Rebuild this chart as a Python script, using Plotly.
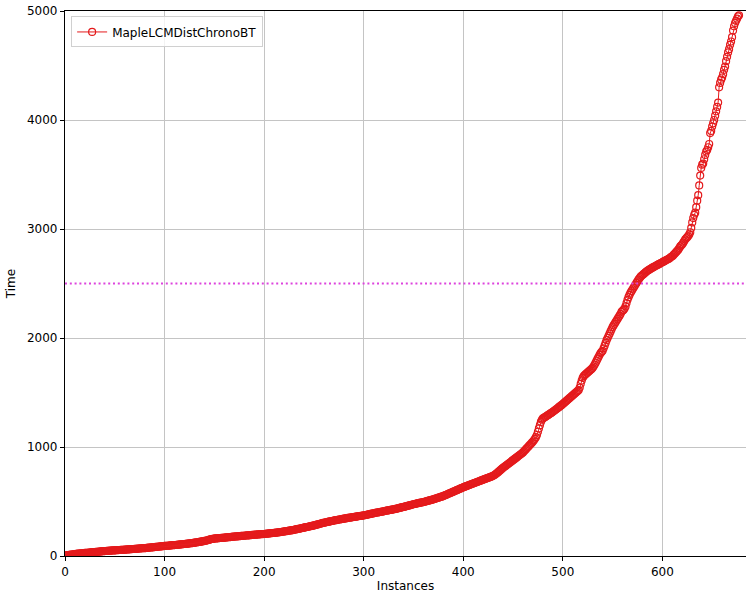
import plotly.graph_objects as go

series_name = "MapleLCMDistChronoBT"
threshold = 2500

times = [
    3,5,7,8,10,11,12,13,15,16,
    18,19,20,21,22,23,24,25,26,27,
    28,29,29,30,31,32,33,34,35,35,
    36,37,38,39,40,41,42,43,44,44,
    45,46,47,47,48,49,50,50,51,51,
    52,52,53,54,54,55,56,56,57,57,
    58,59,59,60,61,61,62,63,64,64,
    65,66,66,67,68,69,70,70,71,72,
    72,73,74,75,76,77,78,79,80,81,
    82,83,84,85,86,87,88,89,90,91,
    92,93,94,94,95,96,97,98,99,99,
    100,101,102,103,104,105,106,107,108,109,
    110,111,112,113,114,115,117,118,119,120,
    122,123,125,126,128,129,131,132,134,136,
    138,140,142,144,147,150,153,155,157,158,
    160,161,161,162,163,164,165,166,166,167,
    168,169,170,171,172,173,174,175,176,177,
    178,179,180,180,181,182,183,184,185,185,
    186,187,188,189,190,190,191,192,193,194,
    195,196,196,197,198,199,199,200,201,201,
    202,203,204,205,206,207,208,209,210,211,
    212,213,214,215,216,218,219,220,222,223,
    225,226,228,229,231,232,234,235,237,238,
    240,242,244,246,248,250,252,254,256,258,
    260,262,264,266,268,270,272,274,276,278,
    280,283,285,288,290,293,295,298,300,303,
    305,307,309,311,313,315,317,319,321,323,
    325,327,329,330,332,334,335,337,339,340,
    342,344,345,347,349,350,352,353,355,356,
    358,359,361,362,364,365,367,368,369,371,
    372,374,376,378,380,382,384,386,388,390,
    392,394,396,398,400,401,403,405,407,408,
    410,412,414,416,418,419,421,423,425,426,
    428,430,432,434,436,439,441,443,446,448,
    450,452,455,457,460,462,465,467,470,472,
    475,477,479,481,483,485,487,489,491,493,
    495,497,500,502,505,507,510,512,515,517,
    520,523,526,529,532,535,538,541,544,547,
    550,554,558,562,566,570,574,578,582,586,
    590,594,598,602,606,610,614,618,622,626,
    630,634,637,641,644,648,651,655,658,662,
    665,669,672,676,679,683,686,690,693,697,
    700,703,707,710,714,717,721,724,728,731,
    736,741,747,754,761,769,777,785,793,801,
    809,816,823,830,837,844,851,858,865,872,
    879,886,893,900,907,914,921,928,935,942,
    950,960,970,980,990,1000,1010,1020,1030,1040,
    1050,1062,1075,1090,1110,1140,1170,1200,1230,1250,
    1262,1268,1274,1280,1286,1292,1298,1304,1310,1316,
    1323,1330,1337,1344,1351,1358,1365,1372,1379,1386,
    1394,1402,1410,1418,1426,1434,1442,1450,1458,1466,
    1474,1482,1490,1498,1506,1514,1522,1545,1580,1610,
    1635,1650,1660,1668,1676,1684,1692,1700,1708,1716,
    1726,1740,1756,1774,1792,1810,1828,1846,1862,1872,
    1882,1905,1930,1955,1980,2000,2020,2040,2060,2080,
    2100,2115,2130,2145,2160,2175,2190,2205,2220,2240,
    2250,2258,2270,2290,2320,2350,2375,2395,2415,2430,
    2445,2460,2475,2490,2505,2520,2535,2548,2560,2570,
    2578,2586,2594,2602,2609,2616,2622,2628,2634,2640,
    2645,2650,2655,2660,2665,2670,2675,2680,2685,2690,
    2695,2700,2705,2710,2715,2720,2725,2730,2738,2745,
    2750,2760,2770,2780,2790,2800,2810,2825,2840,2850,
    2860,2875,2890,2905,2915,2925,2935,2950,2970,3010,
    3060,3100,3130,3150,3200,3260,3310,3400,3490,3560,
    3590,3600,3640,3680,3710,3725,3750,3780,3880,3900,
    3940,3970,4000,4040,4080,4120,4160,4300,4340,4370,
    4390,4420,4460,4490,4540,4580,4620,4650,4690,4720,
    4760,4820,4860,4890,4910,4930,4950,4960,
]
instances = list(range(len(times)))

x_ticks = [0, 100, 200, 300, 400, 500, 600]
y_ticks = [0, 1000, 2000, 3000, 4000, 5000]

red = "#e41a1c"
font = dict(family="DejaVu Sans", size=12, color="black")

fig = go.Figure()
fig.add_trace(go.Scatter(
    x=instances, y=times, mode="lines+markers", name=series_name,
    line=dict(color=red, width=1),
    marker=dict(symbol="circle-open", size=7, color=red, line=dict(width=1.2, color=red)),
))

fig.add_shape(type="line", xref="paper", yref="y", x0=0, x1=1, y0=threshold, y1=threshold,
              line=dict(color="#dd44dd", width=2, dash="2px,2.8px"))

axis_common = dict(
    showgrid=True, gridcolor="#c4c4c4", gridwidth=1,
    showline=True, linecolor="black", linewidth=1.2,
    ticks="outside", ticklen=4, tickwidth=1, tickcolor="black",
    zeroline=False, tickfont=font,
)

fig.update_layout(
    width=746, height=594,
    margin=dict(l=65, r=0, t=11, b=38),
    plot_bgcolor="white", paper_bgcolor="white",
    font=font,
    showlegend=True,
    legend=dict(x=0.009, y=0.99, xanchor="left", yanchor="top",
                bgcolor="rgba(255,255,255,0.8)", bordercolor="#d0d0d0", borderwidth=1,
                font=dict(family="DejaVu Sans", size=12, color="black")),
    xaxis=dict(range=[0, 684], tickvals=x_ticks, mirror=True,
               title=dict(text="Instances", font=font, standoff=4), **axis_common),
    yaxis=dict(range=[0, 5000], tickvals=y_ticks,
               title=dict(text="Time", font=font, standoff=8), **axis_common),
)

fig.write_html("out.html")
